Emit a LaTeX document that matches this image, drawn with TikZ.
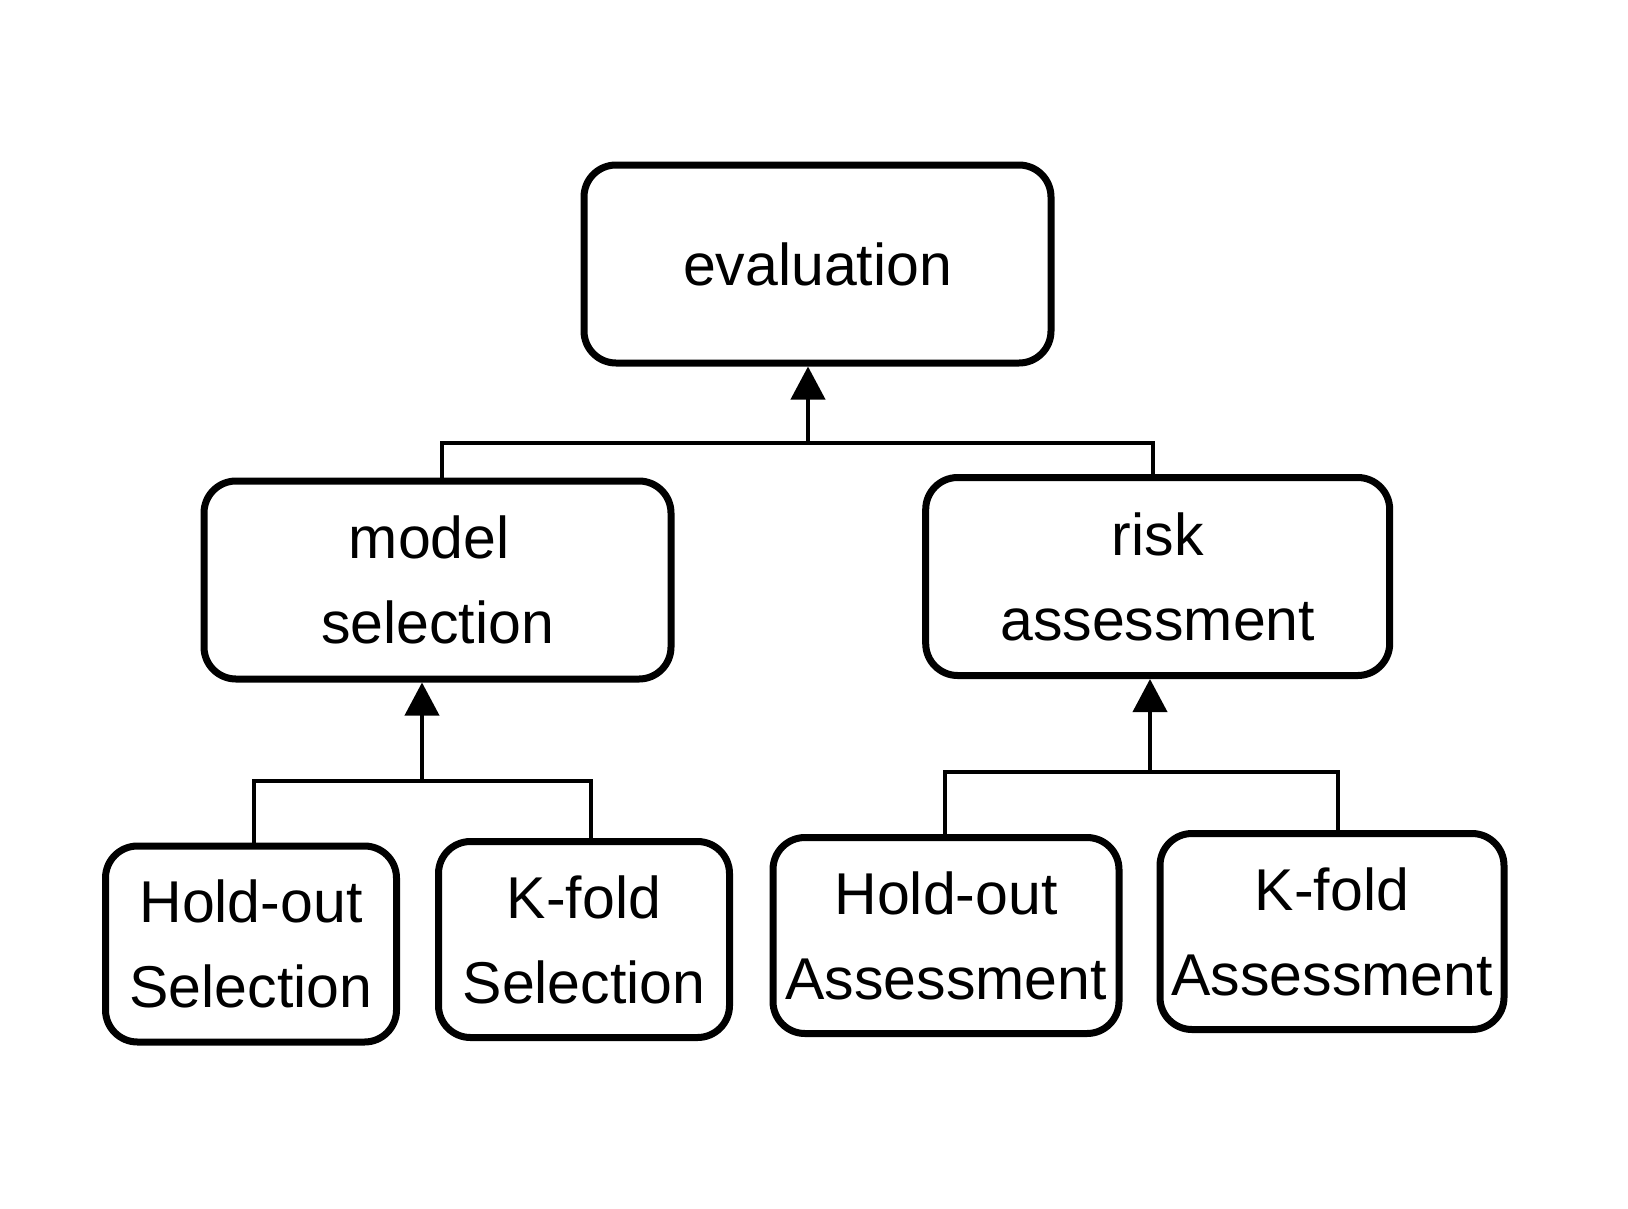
\documentclass[tikz,border=0pt]{standalone}
\usepackage{fontspec}
\setmainfont{Liberation Sans}
\usetikzlibrary{arrows.meta}
\begin{document}
\begin{tikzpicture}[x=1pt,y=-1pt,
  box/.style={draw=black, line width=7pt, rounded corners=32pt, align=center,
    inner sep=0pt, font=\fontsize{59}{85}\selectfont},
  topbox/.style={box, minimum width=467pt, minimum height=198pt},
  link/.style={draw=black, line width=4pt},
  uparrow/.style={draw=black, line width=4pt, -{Triangle[width=34pt,length=33pt]}}]
\useasboundingbox (0,0) rectangle (1628,1208);
\fill[white] (0,0) rectangle (1628,1208);

% nodes
\node[topbox] (eval) at (817.5,264) {evaluation};
\node[topbox] (ms) at (437.5,580) {model\hspace*{0.28em}\\selection};
\node[topbox, minimum width=464pt] (ra) at (1157.7,576.5) {risk\\assessment};
\node[box, minimum width=291pt, minimum height=196pt] (hs) at (251,944) {Hold-out\\Selection};
\node[box, minimum width=291pt, minimum height=196pt] (ks) at (584,939.5) {K-fold\\Selection};
\node[box, minimum width=346pt, minimum height=196pt] (ha) at (946,935.5) {Hold-out\\Assessment};
\node[box, minimum width=344pt, minimum height=196pt] (ka) at (1332,931.5) {K-fold\\Assessment};

% junction coordinates
\coordinate (e0) at (808,443);
\coordinate (eL) at (442,443);
\coordinate (eR) at (1153,443);
\coordinate (m0) at (422,781);
\coordinate (mL) at (254,781);
\coordinate (mR) at (591,781);
\coordinate (r0) at (1150,772);
\coordinate (rL) at (945,772);
\coordinate (rR) at (1338,772);

% connectors
\draw[link] (ms.north -| eL) -- (eL) -- (eR) -- (ra.north -| eR);
\draw[uparrow] (e0) -- (e0 |- eval.south);

\draw[link] (hs.north -| mL) -- (mL) -- (mR) -- (ks.north -| mR);
\draw[uparrow] (m0) -- (m0 |- ms.south);

\draw[link] (ha.north -| rL) -- (rL) -- (rR) -- (ka.north -| rR);
\draw[uparrow] (r0) -- (r0 |- ra.south);
\end{tikzpicture}
\end{document}
